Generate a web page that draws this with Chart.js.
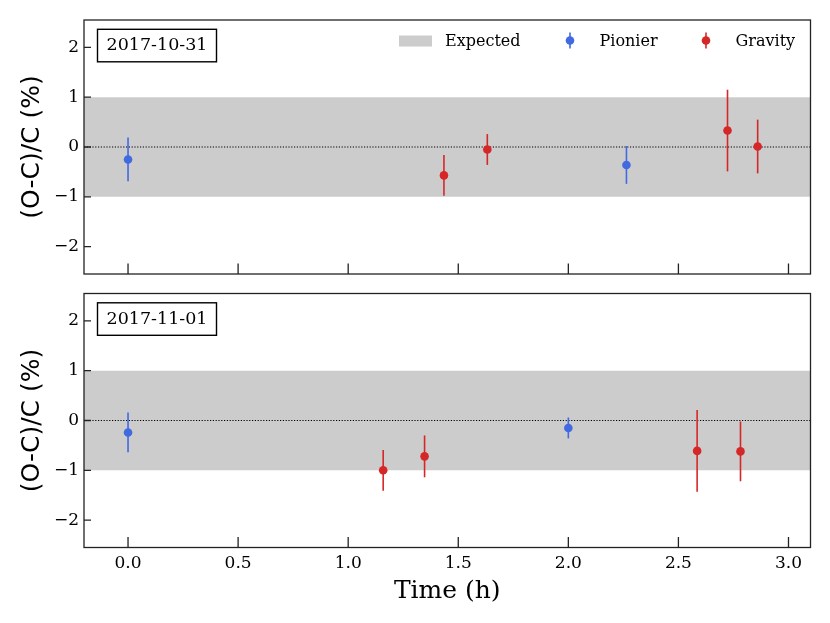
<!DOCTYPE html>
<html>
<head>
<meta charset="utf-8">
<script src="https://cdn.jsdelivr.net/npm/chart.js@4.4.0/dist/chart.umd.min.js"></script>
<style>
  html, body { margin: 0; padding: 0; background: #fff; }
  #wrap { position: relative; width: 830px; height: 623px; }
  canvas { position: absolute; left: 0; }
  #topChart { top: 0; }
  #botChart { top: 285px; }
</style>
</head>
<body>
<div id="wrap">
  <canvas id="topChart" width="830" height="285"></canvas>
  <canvas id="botChart" width="830" height="338"></canvas>
</div>
<script>
// data
const panelLabels = ['2017-10-31', '2017-11-01']

const topPionierX = [0.0, 2.264]
const topPionierY = [-0.25, -0.36]
const topPionierErr = [0.44, 0.38]
const topGravityX = [1.435, 1.632, 2.723, 2.86]
const topGravityY = [-0.57, -0.05, 0.33, 0.01]
const topGravityErr = [0.41, 0.31, 0.82, 0.54]

const botPionierX = [0.0, 2.0]
const botPionierY = [-0.24, -0.15]
const botPionierErr = [0.4, 0.21]
const botGravityX = [1.159, 1.347, 2.585, 2.782]
const botGravityY = [-1.0, -0.72, -0.61, -0.62]
const botGravityErr = [0.41, 0.42, 0.82, 0.6]

const bandLow = -1
const bandHigh = 1
const xMin = -0.2
const xMax = 3.1
const yMin = -2.55
const yMax = 2.55
const yTicks = [-2, -1, 0, 1, 2]

const COLORS = {
  pionier: '#4169e1',
  gravity: '#d62728',
  band: '#cccccc',
  frame: '#222222',
}
const SERIF = '"DejaVu Serif", "Liberation Serif", serif'
const SANS = '"DejaVu Sans", sans-serif'

Chart.defaults.font.family = SERIF
Chart.defaults.color = '#000'

function toPoints(xs, ys) {
  return xs.map((x, i) => ({ x: x, y: ys[i] }))
}

// draws frame, inward ticks, date box, error bars and (optionally) the legend
const panelDecor = {
  id: 'panelDecor',
  beforeDatasetDraw(chart, args) {
    const ds = chart.data.datasets[args.index]
    if (!ds.errors) return
    const { ctx, scales: { y } } = chart
    const meta = chart.getDatasetMeta(args.index)
    ctx.save()
    ctx.strokeStyle = ds.backgroundColor
    ctx.lineWidth = 1.6
    meta.data.forEach((el, i) => {
      const v = ds.data[i].y
      ctx.beginPath()
      ctx.moveTo(el.x, y.getPixelForValue(v + ds.errors[i]))
      ctx.lineTo(el.x, y.getPixelForValue(v - ds.errors[i]))
      ctx.stroke()
    })
    ctx.restore()
  },
  afterDraw(chart, args, opts) {
    const { ctx, chartArea: a, scales: { x, y } } = chart
    ctx.save()
    ctx.strokeStyle = COLORS.frame
    ctx.lineWidth = 1.3
    ctx.strokeRect(a.left, a.top, a.right - a.left, a.bottom - a.top)

    // inward ticks
    ctx.beginPath()
    x.ticks.forEach((t) => {
      const px = x.getPixelForValue(t.value)
      ctx.moveTo(px, a.bottom)
      ctx.lineTo(px, a.bottom - 10.5)
    })
    y.ticks.forEach((t) => {
      const py = y.getPixelForValue(t.value)
      ctx.moveTo(a.left, py)
      ctx.lineTo(a.left + 7, py)
    })
    ctx.stroke()

    // date box
    const bx = a.left + 13.5
    const by = a.top + 9.3
    ctx.fillStyle = '#fff'
    ctx.fillRect(bx, by, 119, 32.5)
    ctx.strokeStyle = '#000'
    ctx.lineWidth = 1.4
    ctx.strokeRect(bx, by, 119, 32.5)
    ctx.fillStyle = '#000'
    ctx.font = '17.5px ' + SERIF
    ctx.textAlign = 'center'
    ctx.textBaseline = 'middle'
    ctx.fillText(opts.label, bx + 59.5, by + 16.5)

    if (opts.legend) {
      const ly = a.top + 21.5
      ctx.font = '16px ' + SERIF
      ctx.textAlign = 'left'
      ctx.fillStyle = COLORS.band
      ctx.fillRect(a.right - 411.5, ly - 6, 33, 11)
      ctx.fillStyle = '#000'
      ctx.fillText('Expected', a.right - 365.5, ly)

      const markers = [
        [a.right - 240.5, COLORS.pionier, 'Pionier'],
        [a.right - 104.5, COLORS.gravity, 'Gravity'],
      ]
      markers.forEach(([mx, col, txt]) => {
        ctx.strokeStyle = col
        ctx.lineWidth = 1.6
        ctx.beginPath()
        ctx.moveTo(mx, ly - 9)
        ctx.lineTo(mx, ly + 7)
        ctx.stroke()
        ctx.fillStyle = col
        ctx.beginPath()
        ctx.arc(mx, ly - 1, 4.3, 0, Math.PI * 2)
        ctx.fill()
        ctx.fillStyle = '#000'
        ctx.fillText(txt, mx + 29.5, ly)
      })
    }
    ctx.restore()
  },
}

function buildDatasets(px, py, pe, gx, gy, ge) {
  return [
    {
      type: 'line',
      data: [{ x: xMin, y: bandLow }, { x: xMax, y: bandLow }],
      fill: { value: bandHigh },
      backgroundColor: COLORS.band,
      borderWidth: 0,
      pointRadius: 0,
      order: 5,
    },
    {
      type: 'line',
      data: [{ x: xMin, y: 0 }, { x: xMax, y: 0 }],
      borderColor: '#000',
      borderWidth: 1,
      borderDash: [1.2, 1.6],
      pointRadius: 0,
      fill: false,
      order: 4,
    },
    {
      label: 'Pionier',
      data: toPoints(px, py),
      errors: pe,
      backgroundColor: COLORS.pionier,
      pointRadius: 4.3,
      pointBorderWidth: 0,
      order: 1,
    },
    {
      label: 'Gravity',
      data: toPoints(gx, gy),
      errors: ge,
      backgroundColor: COLORS.gravity,
      pointRadius: 4.3,
      pointBorderWidth: 0,
      order: 0,
    },
  ]
}

function makeChart(id, datasets, cfg) {
  return new Chart(document.getElementById(id), {
    type: 'scatter',
    data: { datasets: datasets },
    plugins: [panelDecor],
    options: {
      responsive: false,
      animation: false,
      devicePixelRatio: 1,
      layout: { autoPadding: false, padding: { left: 0, top: cfg.top, right: 19.5, bottom: 0 } },
      plugins: {
        legend: { display: false },
        tooltip: { enabled: false },
        panelDecor: { label: cfg.label, legend: cfg.legend },
      },
      scales: {
        x: {
          type: 'linear',
          min: xMin,
          max: xMax,
          grid: { display: false, drawTicks: false },
          border: { display: false },
          ticks: {
            display: cfg.xLabels,
            stepSize: 0.5,
            includeBounds: false,
            padding: 6,
            font: { size: 17, family: SERIF },
            callback: (v) => v.toFixed(1),
          },
          title: {
            display: cfg.xLabels,
            text: 'Time (h)',
            font: { size: 25, family: SERIF },
            padding: { top: 0, bottom: 17 },
          },
          afterFit: (s) => {
            s.height = cfg.xHeight
            s.paddingLeft = s.paddingRight = 0
          },
        },
        y: {
          min: yMin,
          max: yMax,
          grid: { display: false, drawTicks: false },
          border: { display: false },
          afterBuildTicks: (s) => { s.ticks = yTicks.map((v) => ({ value: v })) },
          ticks: {
            padding: 5,
            font: { size: 17, family: SERIF },
            callback: (v) => (v < 0 ? '\u2212' + Math.abs(v) : String(v)),
          },
          title: {
            display: true,
            text: '(O-C)/C (%)',
            font: { size: 25, family: SANS },
            padding: { top: 17, bottom: 0 },
          },
          afterFit: (s) => {
            s.width = 84
            s.paddingTop = s.paddingBottom = 0
          },
        },
      },
    },
  })
}

makeChart('topChart',
  buildDatasets(topPionierX, topPionierY, topPionierErr, topGravityX, topGravityY, topGravityErr),
  { top: 20, xHeight: 11, xLabels: false, label: panelLabels[0], legend: true })

makeChart('botChart',
  buildDatasets(botPionierX, botPionierY, botPionierErr, botGravityX, botGravityY, botGravityErr),
  { top: 8.5, xHeight: 75.5, xLabels: true, label: panelLabels[1], legend: false })
</script>
</body>
</html>
